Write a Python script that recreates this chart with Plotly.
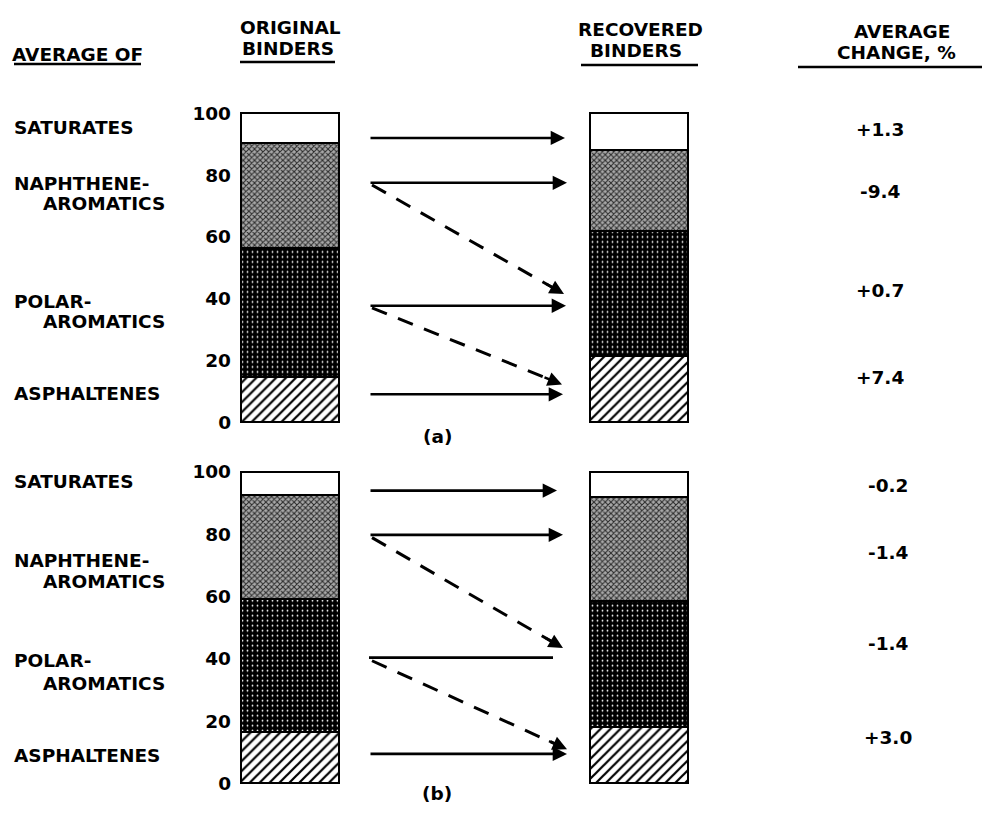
import plotly.graph_objects as go

# ---------------- data ----------------
binders = ["ORIGINAL", "RECOVERED"]
components = ["ASPHALTENES", "POLAR-AROMATICS", "NAPHTHENE-AROMATICS", "SATURATES"]

# panel (a): [original, recovered], percent
asph_a = [14.6, 21.3]
polar_a = [41.6, 40.6]
naph_a = [34.0, 26.0]
sat_a = [9.8, 12.1]

# panel (b)
asph_b = [16.4, 18.0]
polar_b = [42.6, 40.4]
naph_b = [33.4, 33.4]
sat_b = [7.6, 8.2]

change_a = ["+1.3", "-9.4", "+0.7", "+7.4"]
change_b = ["-0.2", "-1.4", "-1.4", "+3.0"]

tick_vals = [0, 20, 40, 60, 80, 100]

# arrow levels (percent scale): solid arrows [sat, naph, polar, asph]
solid_a = [92.0, 77.5, 37.8, 9.2]
solid_b = [94.0, 79.8, 40.4, 9.5]
# dashed arrows: (start level, end level)
dashed_a = [(76.8, 41.6), (37.1, 12.4)]
dashed_b = [(78.9, 43.5), (39.4, 11.0)]

# ---------------- layout helpers ----------------
W, H = 982, 820
FONT = "DejaVu Sans"
FS = 18.5


def px(x):
    return x / W


def py(y):
    return 1 - y / H


def domain_for(y0px, y100px, lo, hi):
    s = (y0px - y100px) / 100.0
    bottom = y0px - lo * s
    top = y100px - (hi - 100) * s
    return [py(bottom), py(top)]


LO, HI = -1.2, 101.2
X_ORIG, X_REC, BAR_W = 290, 639, 98

fig = go.Figure()

styles = {
    "ASPHALTENES": dict(color="white", pattern=dict(shape="/", fgcolor="black", bgcolor="white", size=7, solidity=0.32)),
    "POLAR-AROMATICS": dict(color="black", pattern=dict(shape=".", fgcolor="white", bgcolor="black", size=5, solidity=0.1)),
    "NAPHTHENE-AROMATICS": dict(color="#8a8a8a", pattern=dict(shape="x", fgcolor="#2a2a2a", bgcolor="#a8a8a8", size=4, solidity=0.45)),
    "SATURATES": dict(color="white", pattern=None),
}

for yax, vals in (("y", [asph_a, polar_a, naph_a, sat_a]), ("y2", [asph_b, polar_b, naph_b, sat_b])):
    for comp, v in zip(components, vals):
        st = styles[comp]
        marker = dict(color=st["color"], line=dict(color="black", width=2.4))
        if st["pattern"]:
            marker["pattern"] = dict(fillmode="replace", **st["pattern"])
        fig.add_trace(go.Bar(x=[X_ORIG, X_REC], y=v, width=BAR_W, name=comp,
                             marker=marker, xaxis="x", yaxis=yax,
                             showlegend=False, hoverinfo="skip"))

ann = []
shapes = []

# arrows
X_START = 369
for yref, solid, dashed, ends, heads in (
        ("y", solid_a, dashed_a, [565, 567, 566, 563], [True, True, True, True]),
        ("y2", solid_b, dashed_b, [557, 563, 553, 567], [True, True, False, True])):
    for lvl, xe, hd in zip(solid, ends, heads):
        if hd:
            ann.append(dict(x=xe, y=lvl, xref="x", yref=yref, ax=X_START, ay=lvl,
                            axref="x", ayref=yref, text="", showarrow=True,
                            arrowhead=2, arrowsize=1.1, arrowwidth=2.6, arrowcolor="black"))
        else:
            fig.add_trace(go.Scatter(x=[X_START, xe], y=[lvl, lvl], mode="lines", xaxis="x", yaxis=yref,
                                     line=dict(color="black", width=2.6), showlegend=False, hoverinfo="skip"))
    dash_ends = [564, 562] if yref == "y" else [563, 567]
    for (s, e), xe in zip(dashed, dash_ends):
        xs = X_START + 3
        fig.add_trace(go.Scatter(x=[xs, xe - 0.06 * (xe - xs)], y=[s, e - 0.06 * (e - s)], mode="lines",
                                 xaxis="x", yaxis=yref,
                                 line=dict(color="black", width=3, dash="16px,12px"),
                                 showlegend=False, hoverinfo="skip"))
        ann.append(dict(x=xe, y=e, xref="x", yref=yref, ax=xe - 0.1 * (xe - xs), ay=e - 0.1 * (e - s),
                        axref="x", ayref=yref, text="", showarrow=True,
                        arrowhead=2, arrowsize=1.1, arrowwidth=2.6, arrowcolor="black"))

tf = dict(family=FONT, size=FS, color="black", weight="bold")


def label(text, x, y, xanchor="left"):
    ann.append(dict(x=px(x), y=py(y), xref="paper", yref="paper", text=text, showarrow=False,
                    xanchor=xanchor, yanchor="middle", font=tf, borderpad=0, borderwidth=0))


# headers
label("AVERAGE OF", 77, 48, "center")
label("ORIGINAL", 290, 21, "center")
label("BINDERS", 288, 42, "center")
label("RECOVERED", 640, 23, "center")
label("BINDERS", 636, 44, "center")
label("AVERAGE", 902, 25, "center")
label("CHANGE, %", 896, 46, "center")
for x0, x1, y in ((14, 141, 58), (240, 335, 56), (581, 698, 59), (798, 982, 61)):
    shapes.append(dict(type="line", xref="paper", yref="paper", x0=px(x0), x1=px(x1), y0=py(y), y1=py(y),
                       line=dict(color="black", width=2.5)))

# left labels
for ys in ((123, 180, 200, 300, 320, 393), (483, 563, 584, 665, 688, 761)):
    label("SATURATES", 14, ys[0])
    label("NAPHTHENE-", 14, ys[1])
    label("AROMATICS", 43, ys[2])
    label("POLAR-", 14, ys[3])
    label("AROMATICS", 43, ys[4])
    label("ASPHALTENES", 14, ys[5])

# changes
for txt, y in zip(change_a, (125, 188, 288, 377)):
    label(txt, 880, y, "center")
for txt, y in zip(change_b, (487, 555, 648, 743)):
    label(txt, 888, y, "center")

label("(a)", 437, 437, "center")
label("(b)", 437, 800, "center")

axis_common = dict(range=[LO, HI], tickvals=tick_vals, showgrid=False, zeroline=False, showline=False,
                   ticks="", tickfont=tf, anchor="free", position=px(241), ticklabelstandoff=10,
                   fixedrange=True)

fig.update_layout(
    width=W, height=H, margin=dict(l=0, r=0, t=0, b=0),
    paper_bgcolor="white", plot_bgcolor="rgba(0,0,0,0)",
    barmode="stack", bargap=0,
    xaxis=dict(range=[0, W], domain=[0, 1], visible=False, fixedrange=True),
    yaxis=dict(domain=domain_for(423, 108, LO, HI), **axis_common),
    yaxis2=dict(domain=domain_for(790, 473, LO, HI), **axis_common),
    annotations=ann, shapes=shapes, showlegend=False,
)

fig.write_html("out.html", config={"displayModeBar": False},
               post_script="document.body.style.margin='0';document.body.style.padding='0';")
